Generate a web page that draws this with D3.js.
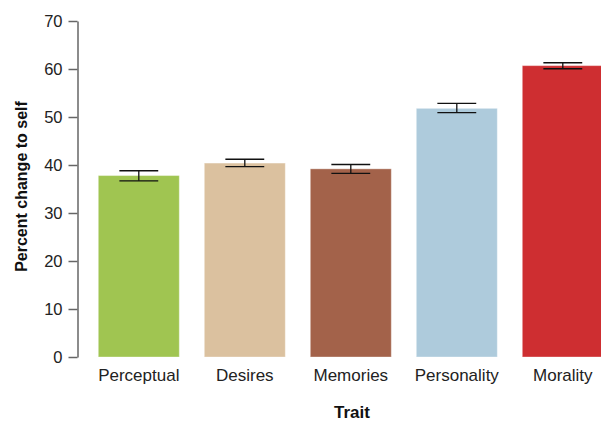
<!DOCTYPE html>
<html>
<head>
<meta charset="utf-8">
<script src="https://cdn.jsdelivr.net/npm/d3@7"></script>
<style>
  body { margin: 0; background: #fff; }
  text { font-family: "Liberation Sans", Arial, sans-serif; }
</style>
</head>
<body>
<svg id="chart" width="601" height="421"></svg>
<script>
// values
const traits = ["Perceptual", "Desires", "Memories", "Personality", "Morality"];
const means = [37.8, 40.4, 39.2, 51.8, 60.7];
const errLow = [36.7, 39.65, 38.25, 50.9, 60.05];
const errHigh = [38.8, 41.2, 40.1, 52.85, 61.3];
const colors = ["#a0c551", "#dbc19f", "#a3624a", "#aecbdc", "#ce2e31"];
const yTicks = [0, 10, 20, 30, 40, 50, 60, 70];

const svg = d3.select("#chart");

const x = d3.scaleBand()
    .domain(traits)
    .range([85.8, 615.8])
    .paddingInner(0.236)
    .paddingOuter(0.118);

const y = d3.scaleLinear()
    .domain([0, 70])
    .range([357, 21]);

let rows = traits.map((t, i) => ({trait: t, mean: means[i], lo: errLow[i], hi: errHigh[i], color: colors[i]}));

// bars
svg.append("g").attr("id", "bars")
    .selectAll("rect")
    .data(rows)
    .enter().append("rect")
    .attr("x", d => x(d.trait))
    .attr("y", d => y(d.mean))
    .attr("width", x.bandwidth())
    .attr("height", d => y(0) - y(d.mean))
    .attr("fill", d => d.color)
    .attr("stroke", "#ffffff")
    .attr("stroke-opacity", 0.35)
    .attr("stroke-width", 1);

// error bars
let capW = x.bandwidth() * 0.48;
let eb = svg.append("g").attr("id", "errors")
    .selectAll("g")
    .data(rows)
    .enter().append("g")
    .attr("stroke", "#111")
    .attr("stroke-width", 1.3);

eb.append("line")
    .attr("x1", d => x(d.trait) + x.bandwidth() / 2)
    .attr("x2", d => x(d.trait) + x.bandwidth() / 2)
    .attr("y1", d => y(d.lo))
    .attr("y2", d => y(d.hi));
eb.append("line")
    .attr("x1", d => x(d.trait) + x.bandwidth() / 2 - capW / 2)
    .attr("x2", d => x(d.trait) + x.bandwidth() / 2 + capW / 2)
    .attr("y1", d => y(d.hi))
    .attr("y2", d => y(d.hi));
eb.append("line")
    .attr("x1", d => x(d.trait) + x.bandwidth() / 2 - capW / 2)
    .attr("x2", d => x(d.trait) + x.bandwidth() / 2 + capW / 2)
    .attr("y1", d => y(d.lo))
    .attr("y2", d => y(d.lo));

// y axis
let yAxis = svg.append("g")
    .attr("transform", "translate(77.5,0)")
    .call(d3.axisLeft(y).tickValues(yTicks).tickSize(9).tickSizeOuter(0).tickPadding(6));
yAxis.select(".domain").attr("stroke", "#666").attr("stroke-width", 1.5);
yAxis.selectAll(".tick line").attr("stroke", "#666").attr("stroke-width", 1.5);
yAxis.selectAll(".tick text")
    .attr("font-size", 16.5)
    .attr("font-family", "Liberation Sans, Arial, sans-serif")
    .attr("fill", "#222");

// x axis labels (no line)
let xAxis = svg.append("g")
    .attr("transform", "translate(0,357)")
    .call(d3.axisBottom(x).tickSize(0).tickPadding(12));
xAxis.select(".domain").remove();
xAxis.selectAll(".tick text")
    .attr("font-size", 17)
    .attr("font-family", "Liberation Sans, Arial, sans-serif")
    .attr("fill", "#222");

// titles
svg.append("text")
    .attr("x", 352)
    .attr("y", 417.5)
    .attr("text-anchor", "middle")
    .attr("font-size", 17)
    .attr("font-weight", "bold")
    .attr("fill", "#111")
    .text("Trait");

svg.append("text")
    .attr("transform", "translate(26.5,186.5) rotate(-90)")
    .attr("text-anchor", "middle")
    .attr("font-size", 16)
    .attr("font-weight", "bold")
    .attr("fill", "#111")
    .text("Percent change to self");
</script>
</body>
</html>
